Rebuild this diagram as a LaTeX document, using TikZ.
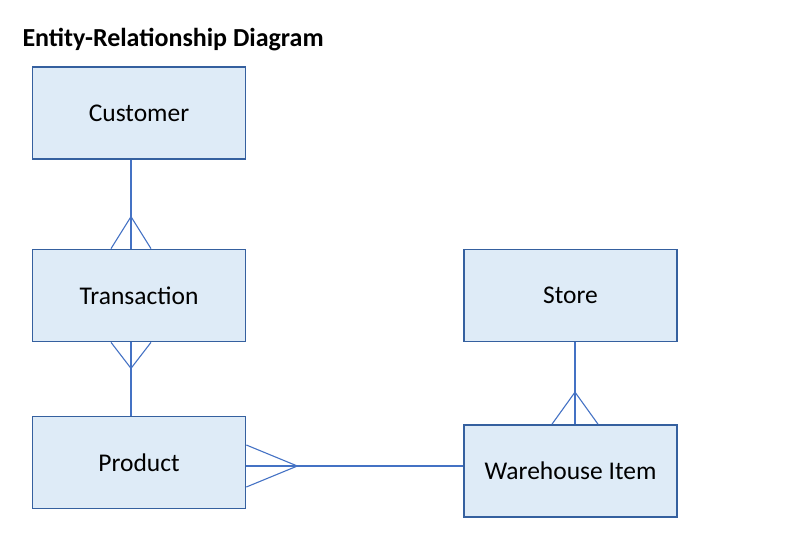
\documentclass[tikz,border=0pt]{standalone}
\usepackage{fontspec}
\setmainfont{Carlito}
\usetikzlibrary{positioning,calc}
\definecolor{erfill}{HTML}{DEEBF7}
\definecolor{erdraw}{HTML}{35609F}
\definecolor{erline}{HTML}{4472C4}

\begin{document}
\begin{tikzpicture}[x=1pt, y=-1pt, every node/.style={font=\fontsize{25.5}{30}\selectfont}]
  \tikzset{
    entity/.style={draw=erdraw, fill=erfill, line width=1.7pt, minimum width=213pt, minimum height=92pt, inner sep=0pt},
    link/.style={draw=erline, line width=1.1pt}
  }
  \useasboundingbox (0,0) rectangle (790,542);

  \node[anchor=base west, font=\bfseries\fontsize{26}{30}\selectfont] (title) at (19,46) {Entity-Relationship Diagram};

  \node[entity] (cust)  at (139,113)   {Customer};
  \node[entity] (trans) at (139,295.5) {Transaction};
  \node[entity] (prod)  at (139,462.5) {Product};
  \node[entity] (store) at (570.5,295.5) {Store};
  \node[entity] (ware)  at (570.5,471) {Warehouse Item};

  % many transactions per customer
  \coordinate (ct) at ($(trans.north)+(-8,-32)$);
  \draw[link] (cust.south -| ct) -- (trans.north -| ct);
  \draw[link] ($(trans.north -| ct)+(-20,0)$) -- (ct) -- ($(trans.north -| ct)+(20,0)$);

  % many transactions per product
  \coordinate (tp) at ($(trans.south)+(-8,26)$);
  \draw[link] (trans.south -| tp) -- (prod.north -| tp);
  \draw[link] ($(trans.south -| tp)+(-20,0)$) -- (tp) -- ($(trans.south -| tp)+(20,0)$);

  % many products per warehouse item
  \coordinate (pw) at ($(prod.east)+(51,3.5)$);
  \draw[link] (prod.east |- pw) -- (ware.west |- pw);
  \draw[link] ($(prod.east |- pw)+(0,-21)$) -- (pw) -- ($(prod.east |- pw)+(0,21)$);

  % many warehouse items per store
  \coordinate (sw) at ($(ware.north)+(4.5,-32)$);
  \draw[link] (store.south -| sw) -- (ware.north -| sw);
  \draw[link] ($(ware.north -| sw)+(-23,0)$) -- (sw) -- ($(ware.north -| sw)+(23,0)$);
\end{tikzpicture}
\end{document}
